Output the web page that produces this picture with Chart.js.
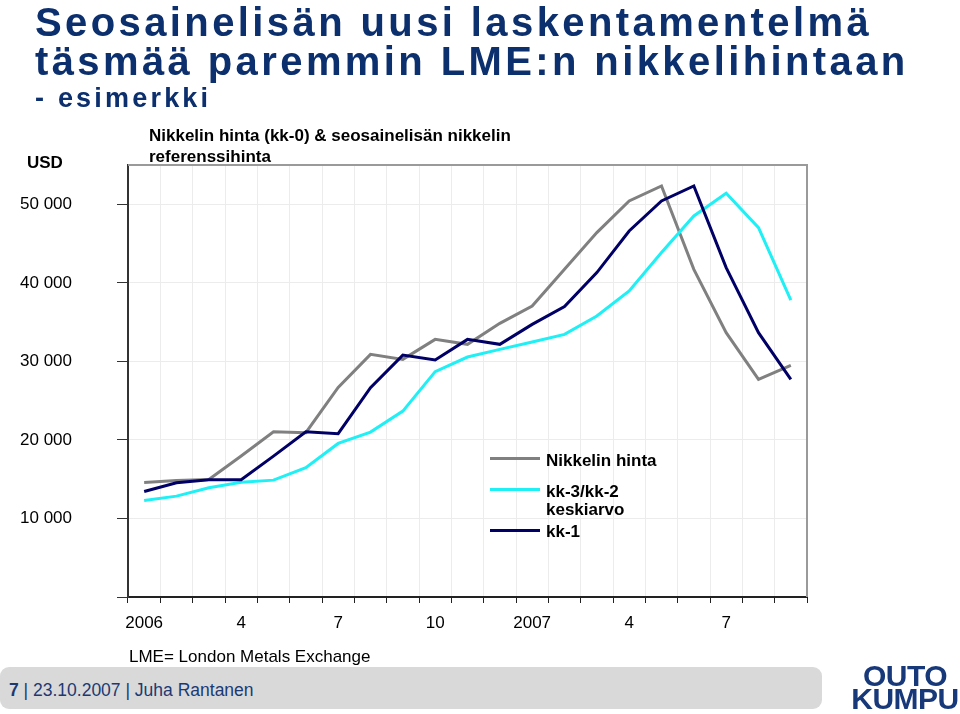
<!DOCTYPE html>
<html>
<head>
<meta charset="utf-8">
<script src="https://cdn.jsdelivr.net/npm/chart.js@4/dist/chart.umd.min.js"></script>
<style>
  html, body { margin:0; padding:0; background:#fff; }
  body { width:960px; height:714px; position:relative; overflow:hidden; font-family:"Liberation Sans", Arial, sans-serif; }
  #c { position:absolute; left:0; top:0; }
  .t { position:absolute; white-space:nowrap; }
  .title { color:#0c2f6d; font-weight:bold; font-size:40px; line-height:40px; letter-spacing:3.4px; left:35px; }
  .sub { font-weight:bold; font-size:17px; line-height:21px; color:#000; }
  .lg { position:absolute; height:3px; width:50px; left:490px; }
  .lt { position:absolute; left:546px; font-weight:bold; font-size:17px; line-height:18px; color:#000; white-space:nowrap; }
</style>
</head>
<body>
<canvas id="c" width="960" height="714"></canvas>

<div class="t title" style="top:2px;">Seosainelisän uusi laskentamentelmä</div>
<div class="t title" style="top:41px;">täsmää paremmin LME:n nikkelihintaan</div>
<div class="t title" style="top:85px;font-size:27px;line-height:27px;letter-spacing:3.2px;">- esimerkki</div>

<div class="t sub" style="left:149px;top:125px;">Nikkelin hinta (kk-0) &amp; seosainelisän nikkelin<br>referenssihinta</div>
<div class="t sub" style="left:27px;top:152px;">USD</div>

<div class="lg" style="top:457px;background:#808080;"></div>
<div class="lt" style="top:452px;">Nikkelin hinta</div>
<div class="lg" style="top:488px;background:#1ef0f5;"></div>
<div class="lt" style="top:483px;">kk-3/kk-2<br>keskiarvo</div>
<div class="lg" style="top:529px;background:#000066;"></div>
<div class="lt" style="top:523px;">kk-1</div>

<div class="t" style="left:129px;top:647px;font-size:17px;line-height:20px;color:#000;">LME= London Metals Exchange</div>

<div style="position:absolute;left:0;top:667px;width:822px;height:42px;border-radius:9px;background:#d9d9d9;"></div>
<div class="t" style="left:9px;top:679px;font-size:17.5px;line-height:22px;color:#1b3a73;"><b>7</b> | 23.10.2007 | Juha Rantanen</div>

<div class="t" style="left:850px;top:664px;width:110px;text-align:center;font-weight:bold;font-size:30px;line-height:23px;color:#17397a;letter-spacing:-0.5px;">OUTO<br>KUMPU</div>

<script>
// ---- data ----
const categories = ['2006-01','2006-02','2006-03','2006-04','2006-05','2006-06','2006-07','2006-08','2006-09','2006-10','2006-11','2006-12',
                    '2007-01','2007-02','2007-03','2007-04','2007-05','2007-06','2007-07','2007-08','2007-09'];
const tickLabels = ['2006','','','4','','','7','','','10','','','2007','','','4','','','7','',''];
const nikkelinHinta = [14590, 14840, 14970, 17940, 21040, 20920, 26690, 30890, 30250, 32800, 32170, 34840,
                       37040, 41720, 46390, 50420, 52330, 41720, 33650, 27710, 29490];
const kk3kk2Keskiarvo = [12290, 12840, 13910, 14620, 14880, 16460, 19550, 21000, 23670, 28690, 30550, 31530,
                         32460, 33440, 35770, 38960, 43850, 48510, 51400, 47030, 37810];
const kk1 = [13440, 14550, 14930, 14930, 17940, 21040, 20790, 26650, 30800, 30170, 32800, 32170,
             34710, 36970, 41300, 46600, 50420, 52330, 41940, 33650, 27710];
const yTickValues = [0, 10000, 20000, 30000, 40000, 50000];

const frame = {
  id: 'frame',
  afterDraw(chart) {
    const a = chart.chartArea, ctx = chart.ctx;
    ctx.save();
    ctx.strokeStyle = '#9a9a9a';
    ctx.lineWidth = 2;
    ctx.beginPath();
    ctx.moveTo(a.left, a.top);
    ctx.lineTo(a.right, a.top);
    ctx.lineTo(a.right, a.bottom);
    ctx.stroke();
    ctx.restore();
  }
};

const fmt = v => String(v).replace(/\B(?=(\d{3})+(?!\d))/g, ' ');

new Chart(document.getElementById('c'), {
  type: 'line',
  data: {
    labels: categories,
    datasets: [
      { label: 'Nikkelin hinta', data: nikkelinHinta, borderColor: '#808080', order: 2 },
      { label: 'kk-3/kk-2 keskiarvo', data: kk3kk2Keskiarvo, borderColor: '#1ef0f5', order: 1 },
      { label: 'kk-1', data: kk1, borderColor: '#000066', order: 0 }
    ]
  },
  options: {
    responsive: false,
    animation: false,
    events: [],
    layout: { padding: { left: 0, right: 153, top: 165, bottom: 0 } },
    elements: {
      line: { borderWidth: 3, tension: 0, fill: false, borderCapStyle: 'butt', borderJoinStyle: 'miter' },
      point: { radius: 0 }
    },
    plugins: { legend: { display: false }, tooltip: { enabled: false }, title: { display: false } },
    scales: {
      x: {
        type: 'category',
        offset: true,
        grid: { offset: true, color: '#ececec', lineWidth: 1, tickColor: '#222', tickLength: 6, drawTicks: true },
        border: { color: '#222', width: 2 },
        ticks: {
          autoSkip: false, maxRotation: 0, minRotation: 0, padding: 10,
          color: '#000', font: { family: '"Liberation Sans", Arial, sans-serif', size: 17 },
          callback: (v, i) => tickLabels[i]
        },
        afterFit(s) { s.height = 117; }
      },
      y: {
        min: 0, max: 55000,
        afterBuildTicks(s) { s.ticks = yTickValues.map(v => ({ value: v })); },
        grid: { color: '#ececec', lineWidth: 1, tickColor: '#333', tickLength: 11 },
        border: { color: '#333', width: 2 },
        ticks: {
          padding: 45, color: '#000',
          font: { family: '"Liberation Sans", Arial, sans-serif', size: 17 },
          callback: v => (v === 0 ? '' : fmt(v))
        },
        afterFit(s) { s.width = 128; }
      }
    }
  },
  plugins: [frame]
});
</script>
</body>
</html>
